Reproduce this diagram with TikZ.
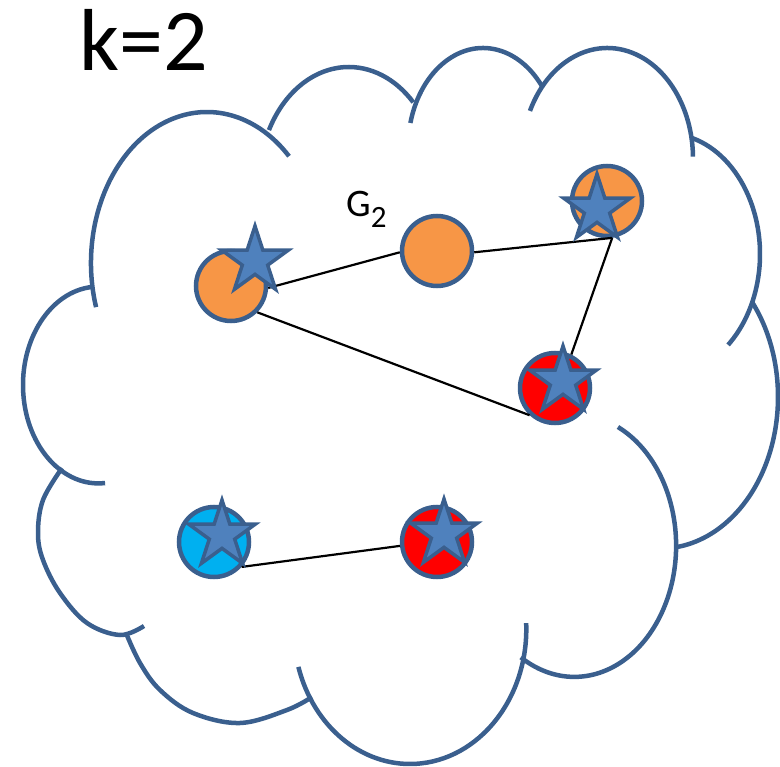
\documentclass[tikz,border=0pt]{standalone}
\usepackage{fontspec}
\setmainfont{Carlito}
\usetikzlibrary{shapes.geometric}
\definecolor{edgeblue}{HTML}{3A5F8E}
\definecolor{starfill}{HTML}{4F81BD}
\definecolor{orangefill}{HTML}{F79646}
\definecolor{redfill}{HTML}{FF0000}
\definecolor{cyanfill}{HTML}{00B0F0}
\tikzset{
  cloudline/.style={draw=edgeblue, line width=4.5pt},
  vertex/.style={circle, draw=edgeblue, line width=4.5pt, minimum size=70pt, inner sep=0pt},
  starmark/.style={star, star points=5, star point ratio=2.618, draw=edgeblue, fill=starfill, line width=3.5pt, minimum size=70pt, inner sep=0pt},
  link/.style={draw=black, line width=2.2pt}
}
% center x, center y, x radius, y radius, start angle, end angle
\newcommand\cloudarc[6]{\draw[cloudline] (#1,#2) ++(#5:#3 and #4) arc[start angle=#5, end angle=#6, x radius=#3, y radius=#4];}
\begin{document}
\begin{tikzpicture}[x=1pt,y=-1pt]
\useasboundingbox (0,0) rectangle (780,767);
% cloud
\cloudarc{207}{263}{116}{151}{163}{315}
\cloudarc{348.8}{182.5}{89.6}{115.5}{207}{316}
\cloudarc{483}{148}{75}{100}{194.5}{323}
\cloudarc{607.3}{158.5}{85.7}{110.5}{205.5}{359}
\cloudarc{666.5}{254.1}{93.5}{120.7}{285.8}{408.8}
\cloudarc{660.6}{397}{117.4}{151.5}{321.1}{442}
\cloudarc{574.3}{545.6}{101.8}{131.3}{295.4}{481.7}
\cloudarc{410}{629}{116.3}{135}{-2.5}{163.7}
\draw[cloudline] plot[smooth, tension=0.6] coordinates {(312,697) (287,710) (240,723) (193,713) (160,690) (140,663) (126,633)};
\draw[cloudline] plot[smooth, tension=0.6] coordinates {(144,626) (120,635) (87,623) (60,593) (43,560) (38,533) (43,500) (62,468)};
\cloudarc{98.5}{385}{75.5}{98.4}{265}{85}
% vertices
\node[vertex, fill=orangefill] (lo) at (231,286) {};
\node[vertex, fill=orangefill] (g2) at (437,251) {};
\node[vertex, fill=orangefill] (tr) at (607,201) {};
\node[vertex, fill=redfill] (rm) at (555,388) {};
\node[vertex, fill=cyanfill] (bl) at (214,542) {};
\node[vertex, fill=redfill] (rb) at (437,542) {};
% links
\draw[link] (lo.-3) -- (g2.182);
\draw[link] (g2.-2) -- (tr.-82);
\draw[link] (tr.-82) -- (rm.64);
\draw[link] (lo.-45) -- (rm.227);
\draw[link] (bl.-42) -- (rb.186);
% stars
\node[starmark] (s1) at (255,261) {};
\node[starmark] (s2) at (597,209) {};
\node[starmark] (s3) at (563,381) {};
\node[starmark] (s4) at (222,535) {};
\node[starmark] (s5) at (444,534) {};
% labels
\node[anchor=base west, inner sep=0pt, font=\fontsize{88}{90}\selectfont] (k) at (79,71) {k=2};
\node[anchor=base west, inner sep=0pt, font=\fontsize{39}{40}\selectfont] (gl) at (346,217) {G\raisebox{-11pt}{\fontsize{31}{32}\selectfont 2}};
\end{tikzpicture}
\end{document}
